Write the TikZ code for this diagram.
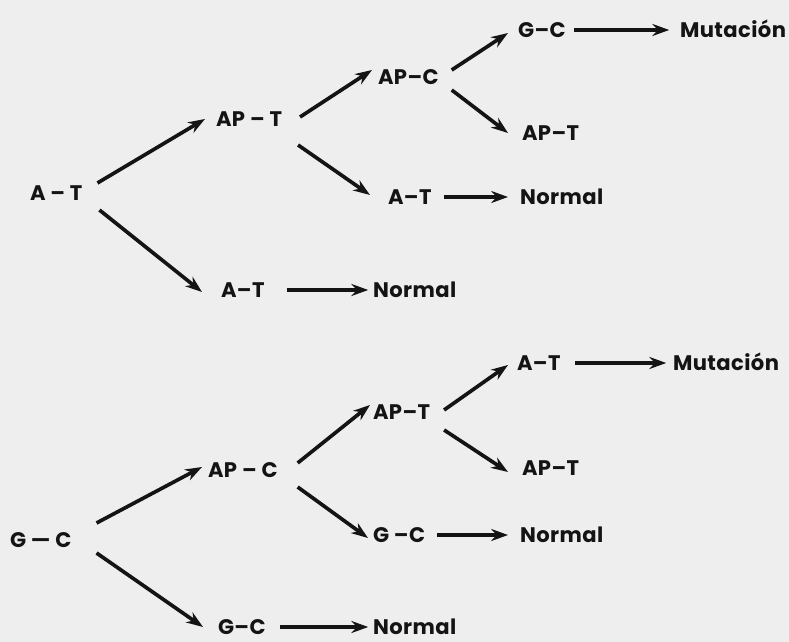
\documentclass[tikz,border=0pt]{standalone}
\usepackage{fontspec}
\setmainfont{Poppins}
\usepackage{xcolor}
\usetikzlibrary{arrows.meta}

\definecolor{scanbg}{RGB}{238,238,238}
\definecolor{ink}{RGB}{20,20,20}

\begin{document}
\begin{tikzpicture}[x=0.025cm, y=-0.025cm,
    lbl/.style={text=ink, font=\fontsize{15}{17}\selectfont\bfseries\addfontfeatures{LetterSpace=2},
                inner sep=0pt, outer sep=0pt, anchor=west, text height=10pt, text depth=0pt},
    arrow/.style={-{Stealth[length=0.42cm, width=0.3cm]}, line width=2.6pt, draw=ink}]

\fill[scanbg] (0,0) rectangle (789,642);
\useasboundingbox (0,0) rectangle (789,642);

% first tree
\node[lbl] (at0) at (30,193) {A -- T};
\node[lbl] (apt1) at (216,119) {AP -- T};
\node[lbl] (at1) at (221,290) {A--T};
\node[lbl] (nor1) at (373,290) {Normal};
\node[lbl] (apc2) at (378,77) {AP--C};
\node[lbl] (at2) at (388,197) {A--T};
\node[lbl] (nor2) at (520,197) {Normal};
\node[lbl] (gc3) at (518,30) {G--C};
\node[lbl] (mut3) at (680,30) {Mutación};
\node[lbl] (apt3) at (522,133) {AP--T};

\draw[arrow] ([shift={(15,-10)}]at0.east) -- ([shift={(-11,0)}]apt1.west);
\draw[arrow] ([shift={(17,17)}]at0.east) -- ([shift={(-19,2)}]at1.west);
\draw[arrow] ([shift={(18,-2)}]apt1.east) -- ([shift={(-6,-7)}]apc2.west);
\draw[arrow] ([shift={(16,26)}]apt1.east) -- ([shift={(-18,-2)}]at2.west);
\draw[arrow] ([shift={(13,-7)}]apc2.east) -- ([shift={(-10,3)}]gc3.west);
\draw[arrow] ([shift={(13,13)}]apc2.east) -- ([shift={(-14,0)}]apt3.west);
\draw[arrow] ([xshift=0.22cm]gc3.east) -- ([xshift=-0.27cm]mut3.west);
\draw[arrow] ([xshift=0.3cm]at2.east) -- ([xshift=-0.3cm]nor2.west);
\draw[arrow] ([xshift=0.55cm]at1.east) -- ([xshift=-0.12cm]nor1.west);

% second tree
\node[lbl] (gc0) at (10,540) {G --- C};
\node[lbl] (apc5) at (208,470) {AP -- C};
\node[lbl] (gc5) at (218,627) {G--C};
\node[lbl] (nor5) at (373,627) {Normal};
\node[lbl] (apt6) at (373,412) {AP--T};
\node[lbl] (gc6) at (373,535) {G --C};
\node[lbl] (nor6) at (520,535) {Normal};
\node[lbl] (at7) at (517,363) {A--T};
\node[lbl] (mut7) at (673,363) {Mutación};
\node[lbl] (apt7) at (522,468) {AP--T};

\draw[arrow] ([shift={(25,-17)}]gc0.east) -- ([shift={(-6,-3)}]apc5.west);
\draw[arrow] ([shift={(25,13)}]gc0.east) -- ([shift={(-15,0)}]gc5.west);
\draw[arrow] ([shift={(20,-7)}]apc5.east) -- ([shift={(-3,-7)}]apt6.west);
\draw[arrow] ([shift={(20,17)}]apc5.east) -- ([shift={(-5,3)}]gc6.west);
\draw[arrow] ([shift={(14,-2)}]apt6.east) -- ([shift={(-9,2)}]at7.west);
\draw[arrow] ([shift={(14,18)}]apt6.east) -- ([shift={(-14,4)}]apt7.west);
\draw[arrow] ([xshift=0.37cm]at7.east) -- ([xshift=-0.17cm]mut7.west);
\draw[arrow] ([xshift=0.3cm]gc6.east) -- ([xshift=-0.3cm]nor6.west);
\draw[arrow] ([xshift=0.35cm]gc5.east) -- ([xshift=-0.12cm]nor5.west);
\end{tikzpicture}
\end{document}
